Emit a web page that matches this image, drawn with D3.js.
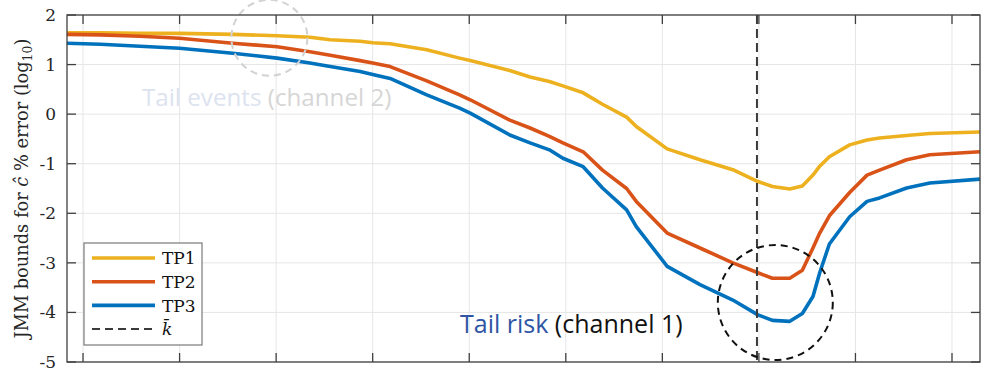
<!DOCTYPE html>
<html>
<head>
<meta charset="utf-8">
<script src="https://cdn.jsdelivr.net/npm/d3@7/dist/d3.min.js"></script>
<style>
  html, body { margin: 0; padding: 0; background: #fff; }
  svg { display: block; }
</style>
</head>
<body>
<svg id="chart" width="981" height="368"></svg>
<script>
// Position along the threshold axis (unlabelled, ticks at 1..10)
const xs = [0.834, 1.18, 1.59, 2.00, 2.55, 3.01, 3.35, 3.56, 3.87, 4.00, 4.18, 4.56, 4.90, 5.01,
  5.42, 5.63, 5.83, 5.97, 6.18, 6.38, 6.63, 6.73, 7.05, 7.39, 7.73, 7.99, 8.14, 8.32, 8.45,
  8.56, 8.63, 8.73, 8.94, 9.12, 9.25, 9.53, 9.77, 10.29];

// log10 of the JMM bound on the c-hat % error, one array per test portfolio
const tp1 = [1.64, 1.64, 1.63, 1.63, 1.61, 1.58, 1.55, 1.50, 1.47, 1.44, 1.42, 1.30, 1.13, 1.08,
  0.88, 0.75, 0.66, 0.57, 0.43, 0.20, -0.06, -0.25, -0.70, -0.92, -1.12, -1.36, -1.46, -1.51, -1.45,
  -1.23, -1.05, -0.86, -0.62, -0.52, -0.48, -0.43, -0.39, -0.36];
const tp2 = [1.61, 1.60, 1.57, 1.53, 1.43, 1.36, 1.26, 1.19, 1.08, 1.03, 0.96, 0.67, 0.39, 0.29,
  -0.12, -0.28, -0.45, -0.58, -0.76, -1.13, -1.50, -1.76, -2.40, -2.70, -3.00, -3.20, -3.31, -3.31, -3.15,
  -2.70, -2.40, -2.05, -1.58, -1.23, -1.13, -0.92, -0.82, -0.76];
const tp3 = [1.43, 1.41, 1.37, 1.33, 1.23, 1.13, 1.03, 0.96, 0.86, 0.80, 0.72, 0.39, 0.12, 0.02,
  -0.42, -0.58, -0.72, -0.89, -1.06, -1.49, -1.93, -2.27, -3.07, -3.44, -3.75, -4.05, -4.16, -4.18, -4.02,
  -3.68, -3.20, -2.62, -2.07, -1.76, -1.69, -1.49, -1.39, -1.31];

const seriesNames = ["TP1", "TP2", "TP3"];
const seriesColors = ["#EDB120", "#D95319", "#0072BD"];

const xTicks = [1, 2, 3, 4, 5, 6, 7, 8, 9, 10];
const yTicks = [-5, -4, -3, -2, -1, 0, 1, 2];
const kBar = 7.98;

// Highlighted regions: [x, y] centre in data units, radius in px
const tailRiskCircle = { x: 8.17, y: -3.80, r: 57.5 };
const tailEventsCircle = { x: 2.93, y: 1.54, r: 38 };

const svg = d3.select("#chart");
const m = { left: 67, right: 980, top: 15, bottom: 362 };

const x = d3.scaleLinear().domain([xs[0], xs[xs.length - 1]]).range([m.left, m.right]);
const y = d3.scaleLinear().domain([-5, 2]).range([m.bottom, m.top]);

const axisColor = "#404040";
const gridColor = "#e6e6e6";

// grid
const grid = svg.append("g");
grid.selectAll("line.gx").data(xTicks).join("line")
  .attr("x1", d => x(d)).attr("x2", d => x(d))
  .attr("y1", m.top).attr("y2", m.bottom)
  .attr("stroke", gridColor).attr("stroke-width", 1);
grid.selectAll("line.gy").data(yTicks).join("line")
  .attr("y1", d => y(d)).attr("y2", d => y(d))
  .attr("x1", m.left).attr("x2", m.right)
  .attr("stroke", gridColor).attr("stroke-width", 1);

// series lines
const line = d3.line().x((d, i) => x(xs[i])).y(d => y(d)).curve(d3.curveLinear);
[tp1, tp2, tp3].forEach((s, i) => {
  svg.append("path").datum(s)
    .attr("d", line)
    .attr("fill", "none")
    .attr("stroke", seriesColors[i])
    .attr("stroke-width", 3.6)
    .attr("stroke-linejoin", "round");
});

// k-bar marker
svg.append("line")
  .attr("x1", x(kBar)).attr("x2", x(kBar))
  .attr("y1", m.top).attr("y2", m.bottom)
  .attr("stroke", "#3a3a3a").attr("stroke-width", 2)
  .attr("stroke-dasharray", "9,5");

// circles
svg.append("circle")
  .attr("cx", x(tailRiskCircle.x)).attr("cy", y(tailRiskCircle.y)).attr("r", tailRiskCircle.r)
  .attr("fill", "none").attr("stroke", "#111").attr("stroke-width", 2)
  .attr("stroke-dasharray", "7,5");
svg.append("circle")
  .attr("cx", x(tailEventsCircle.x)).attr("cy", y(tailEventsCircle.y)).attr("r", tailEventsCircle.r)
  .attr("fill", "none").attr("stroke", "#d2d2d2").attr("stroke-width", 2)
  .attr("stroke-dasharray", "7,5");

// annotations
const t1 = svg.append("text")
  .attr("x", 142).attr("y", 106)
  .attr("font-family", "'Open Sans', sans-serif").attr("font-size", 24.2);
t1.append("tspan").attr("fill", "#dce3ef").text("Tail events ");
t1.append("tspan").attr("fill", "#d6d6d6").text("(channel 2)");

const t2 = svg.append("text")
  .attr("x", 460).attr("y", 333)
  .attr("font-family", "'Open Sans', sans-serif").attr("font-size", 25);
t2.append("tspan").attr("fill", "#2f55a4").text("Tail risk ");
t2.append("tspan").attr("fill", "#111").text("(channel 1)");

// axes (box with inward ticks)
const tickLen = 9;
const axes = svg.append("g").attr("stroke", axisColor).attr("fill", "none");
axes.append("rect")
  .attr("x", m.left).attr("y", m.top)
  .attr("width", m.right - m.left).attr("height", m.bottom - m.top)
  .attr("stroke-width", 1.3);
xTicks.forEach(t => {
  axes.append("line").attr("x1", x(t)).attr("x2", x(t)).attr("y1", m.bottom).attr("y2", m.bottom - tickLen).attr("stroke-width", 1.3);
  axes.append("line").attr("x1", x(t)).attr("x2", x(t)).attr("y1", m.top).attr("y2", m.top + tickLen).attr("stroke-width", 1.3);
});
yTicks.forEach(t => {
  axes.append("line").attr("y1", y(t)).attr("y2", y(t)).attr("x1", m.left).attr("x2", m.left + tickLen).attr("stroke-width", 1.3);
  axes.append("line").attr("y1", y(t)).attr("y2", y(t)).attr("x1", m.right).attr("x2", m.right - tickLen).attr("stroke-width", 1.3);
});

// y tick labels
svg.append("g").selectAll("text").data(yTicks).join("text")
  .attr("x", m.left - 11).attr("y", d => y(d))
  .attr("dy", "0.35em")
  .attr("text-anchor", "end")
  .attr("font-family", "'DejaVu Serif', serif").attr("font-size", 17)
  .attr("fill", "#262626")
  .text(d => d < 0 ? "-" + Math.abs(d) : String(d));

// y title
const yt = svg.append("text")
  .attr("transform", `translate(28,${(m.top + m.bottom) / 2}) rotate(-90)`)
  .attr("text-anchor", "middle")
  .attr("font-family", "'DejaVu Serif', serif").attr("font-size", 17.8)
  .attr("fill", "#262626");
yt.append("tspan").text("JMM bounds for ");
yt.append("tspan").attr("font-style", "italic").text("ĉ");
yt.append("tspan").text(" % error (log");
yt.append("tspan").attr("font-size", 12.5).attr("dy", 4).text("10");
yt.append("tspan").attr("dy", -4).text(")");

// legend
const lg = svg.append("g").attr("transform", "translate(84,243)");
lg.append("rect").attr("width", 118).attr("height", 102)
  .attr("fill", "#fff").attr("stroke", "#7a7a7a").attr("stroke-width", 1.2);
const legendRows = seriesNames.map((n, i) => ({ name: n, color: seriesColors[i], dash: null }))
  .concat([{ name: "k", color: "#3a3a3a", dash: "8,5" }]);
legendRows.forEach((r, i) => {
  const cy = 15 + i * 23.7;
  lg.append("line").attr("x1", 8).attr("x2", 71).attr("y1", cy).attr("y2", cy)
    .attr("stroke", r.color).attr("stroke-width", r.dash ? 2 : 3.6)
    .attr("stroke-dasharray", r.dash);
  const tx = lg.append("text").attr("x", 78).attr("y", cy).attr("dy", "0.36em")
    .attr("font-family", "'DejaVu Serif', serif").attr("font-size", 17).attr("fill", "#111");
  if (r.name === "k") {
    tx.append("tspan").attr("font-style", "italic").text("k̄");
  } else {
    tx.text(r.name);
  }
});
</script>
</body>
</html>
